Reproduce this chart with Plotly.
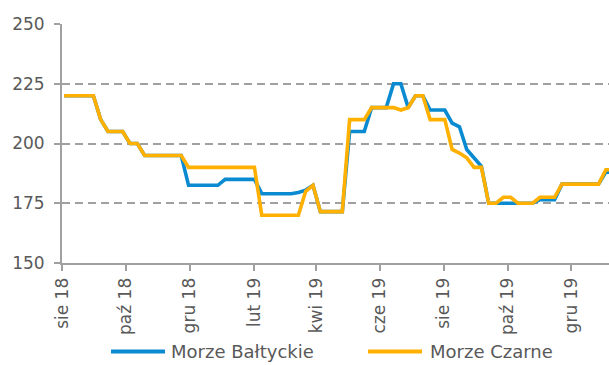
import pandas as pd
import plotly.graph_objects as go

# Weekly freight rates, Fridays from 3 Aug 2018
start_date = "2018-08-03"
n_weeks = 76

baltic = (
    [220] * 5 + [210] + [205] * 3 + [200] * 2 + [195] * 6
    + [182.5] * 5 + [185] * 5 + [179] * 5 + [179.5, 180.5, 182.5]
    + [171.5] * 4 + [205] * 3 + [215] * 3 + [225] * 2 + [215] + [220] * 2
    + [214] * 3 + [208.5, 207, 197.5, 194, 190.5]
    + [175] * 7 + [176.5] * 3 + [183] * 6 + [188] * 2
)
black_sea = (
    [220] * 5 + [210] + [205] * 3 + [200] * 2 + [195] * 6
    + [190] * 10 + [170] * 6 + [180, 182.5]
    + [171.5] * 4 + [210] * 3 + [215] * 4 + [214, 215] + [220] * 2
    + [210] * 3 + [197.5, 196, 194] + [190] * 2
    + [175] * 2 + [177.5] * 2 + [175] * 3 + [177.5] * 3 + [183] * 6 + [189] * 2
)
dates = pd.date_range(start_date, periods=n_weeks, freq="7D")

series_names = ["Morze Bałtyckie", "Morze Czarne"]
series_colors = ["#0A8AD0", "#FFB000"]

tick_dates = ["2018-08-01", "2018-10-01", "2018-12-01", "2019-02-01", "2019-04-01",
              "2019-06-01", "2019-08-01", "2019-10-01", "2019-12-01"]
tick_labels = ["sie 18", "paź 18", "gru 18", "lut 19", "kwi 19",
               "cze 19", "sie 19", "paź 19", "gru 19"]
y_ticks = [150, 175, 200, 225, 250]

W, H = 609, 365
ML, MR, MT, MB = 62, 0, 24, 102
plot_w, plot_h = W - ML - MR, H - MT - MB
FONT = "DejaVu Sans"
TEXT = "#595959"
GRID = "#A0A0A0"

fig = go.Figure()
for name, vals, col in zip(series_names, [baltic, black_sea], series_colors):
    fig.add_trace(go.Scatter(x=dates, y=vals, name=name, mode="lines",
                             line=dict(color=col, width=3.6), showlegend=False))

fig.update_layout(
    width=W, height=H,
    margin=dict(l=ML, r=MR, t=MT, b=MB, pad=0),
    paper_bgcolor="white", plot_bgcolor="white",
    font=dict(family=FONT, size=17, color=TEXT),
    xaxis=dict(
        type="date", range=["2018-08-01", "2020-01-06"],
        tickvals=tick_dates, ticktext=tick_labels, tickangle=-90,
        showgrid=False, showline=True, linecolor=GRID, linewidth=2,
        ticks="outside", ticklen=6, tickwidth=2, tickcolor=GRID,
        tickfont=dict(family=FONT, size=17, color=TEXT),
    ),
    yaxis=dict(
        range=[150, 250], tickvals=y_ticks,
        showgrid=True, gridcolor=GRID, gridwidth=2, griddash="8px,5px",
        showline=True, linecolor=GRID, linewidth=2,
        ticks="outside", ticklen=6, tickwidth=2, tickcolor=GRID,
        ticklabelstandoff=6,
        tickfont=dict(family=FONT, size=17, color=TEXT),
        zeroline=False,
    ),
)

# Legend below the plot: line swatch followed by the series name
def px_x(px):
    return (px - ML) / plot_w

def px_y(py):
    return (MT + plot_h - py) / plot_h

legend_items = [(111, 165, 169), (368, 422, 428)]
legend_y = 351.5
for (x0, x1, tx), name, col in zip(legend_items, series_names, series_colors):
    fig.add_shape(type="line", xref="paper", yref="paper",
                  x0=px_x(x0), x1=px_x(x1), y0=px_y(legend_y), y1=px_y(legend_y),
                  line=dict(color=col, width=4))
    fig.add_annotation(xref="paper", yref="paper", x=px_x(tx), y=px_y(legend_y),
                       xanchor="left", yanchor="middle", showarrow=False,
                       text=name, font=dict(family=FONT, size=18, color=TEXT))

fig.write_html("out.html")
